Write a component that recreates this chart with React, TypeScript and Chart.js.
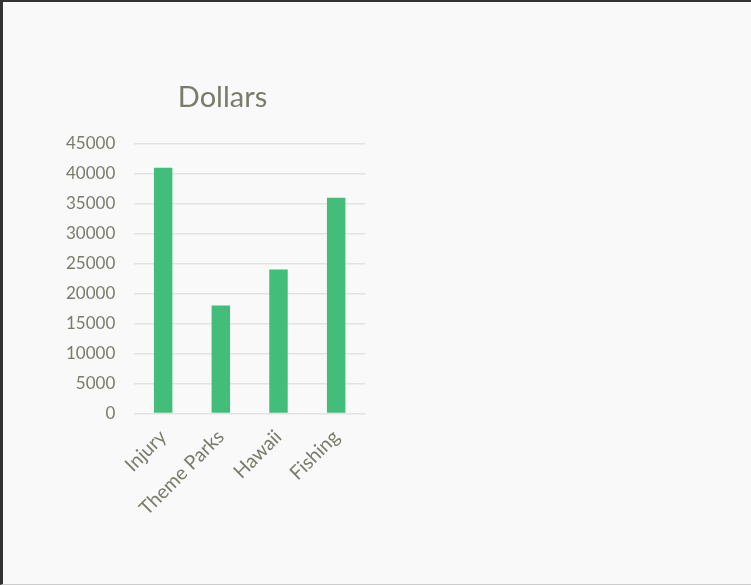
import React, { useEffect, useRef } from "react";
import { Chart, registerables } from "chart.js";

Chart.register(...registerables);

const categories = ["Injury", "Theme Parks", "Hawaii", "Fishing"];
const dollars = [41000, 18000, 24000, 36000];
const yTicks = [0, 5000, 10000, 15000, 20000, 25000, 30000, 35000, 40000, 45000];

const FONT = "Lato, 'Noto Sans', sans-serif";
const TEXT = "#7b7b6b";

export default function App() {
  const ref = useRef<HTMLCanvasElement | null>(null);
  useEffect(() => {
    if (!ref.current) return;
    const chart = new Chart(ref.current, {
      type: "bar",
      data: {
        labels: categories,
        datasets: [
          {
            label: "Dollars",
            data: dollars,
            backgroundColor: "#42be7a",
            barPercentage: 0.32,
            categoryPercentage: 1,
          },
        ],
      },
      options: {
        animation: false,
        responsive: true,
        maintainAspectRatio: false,
        layout: { padding: { left: 0, right: 1, top: 0, bottom: 0 } },
        plugins: {
          legend: { display: false },
          tooltip: { enabled: false },
          title: {
            display: true,
            text: "Dollars",
            color: TEXT,
            font: { family: FONT, size: 29, weight: "normal" },
            padding: { top: 8, bottom: 29 },
          },
        },
        scales: {
          x: {
            grid: { display: false },
            border: { display: false },
            ticks: {
              color: TEXT,
              font: { family: FONT, size: 19.5 },
              maxRotation: 45,
              minRotation: 45,
              padding: 4,
            },
          },
          y: {
            min: 0,
            max: 45000,
            afterBuildTicks: (axis: any) => {
              axis.ticks = yTicks.map((v) => ({ value: v }));
            },
            grid: { color: "#e3e3e0", drawTicks: false, lineWidth: 1.5 },
            border: { display: false },
            ticks: {
              color: TEXT,
              font: { family: FONT, size: 17 },
              padding: 19,
              callback: (v: any) => String(v),
            },
          },
          spacer: {
            type: "linear",
            position: "right",
            grid: { display: false },
            border: { display: false },
            ticks: { display: false },
            afterFit: (axis: any) => {
              axis.width = 33;
            },
          },
        },
      },
    });
    return () => chart.destroy();
  }, []);

  return (
    <div
      style={{
        position: "fixed",
        inset: 0,
        background: "#f9f9f9",
        borderTop: "2px solid #333",
        borderLeft: "3px solid #333",
        borderBottom: "1px solid #ccc",
        boxSizing: "border-box",
      }}
    >
      <div style={{ position: "absolute", left: 44, top: 70, width: 352, height: 452 }}>
        <canvas ref={ref} />
      </div>
    </div>
  );
}
